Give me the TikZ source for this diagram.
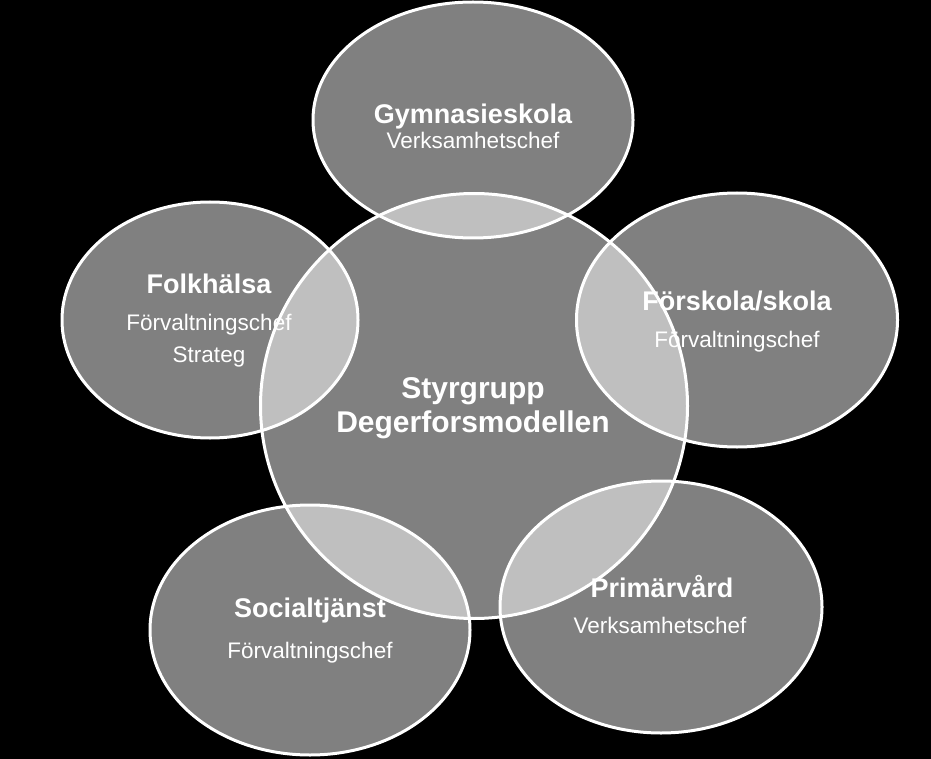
\documentclass[tikz,border=0pt]{standalone}
\usepackage{fontspec}
\setmainfont{Liberation Sans}
\usetikzlibrary{shapes.geometric}
\begin{document}
\begin{tikzpicture}[x=1pt,y=-1pt,
  blob/.style={ellipse, draw=white, line width=3pt, fill=white, fill opacity=0.5, inner sep=0pt, outer sep=0pt},
  ttl/.style={text=white, font=\fontsize{27}{30}\selectfont\bfseries, inner sep=0pt, anchor=base},
  sub/.style={text=white, font=\fontsize{22.5}{26}\selectfont, inner sep=0pt, anchor=base},
  ctr/.style={text=white, font=\fontsize{30}{34}\selectfont\bfseries, inner sep=0pt, anchor=base}]
\fill[black] (0,0) rectangle (931,759);
\useasboundingbox (0,0) rectangle (931,759);
% outer ellipses
\node[blob, minimum width=320pt, minimum height=236pt] (gym) at (473,120) {};
\node[blob, minimum width=296pt, minimum height=236pt] (folk) at (210,320) {};
\node[blob, minimum width=321pt, minimum height=254pt] (forsk) at (737,320) {};
\node[blob, minimum width=320pt, minimum height=250pt] (soc) at (310,630) {};
\node[blob, minimum width=322pt, minimum height=252pt] (prim) at (661,607) {};
% texts of outer ellipses
\node[ttl] (gymT) at (473,124) {Gymnasieskola};
\node[sub] (gymS) at (473,149) {Verksamhetschef};
\node[ttl] (folkT) at (209,293) {Folkhälsa};
\node[sub] (folkS) at (209,330) {Förvaltningschef};
\node[sub] (folkS2) at (209,362) {Strateg};
\node[ttl] (forskT) at (737,310) {Förskola/skola};
\node[sub] (forskS) at (737,347) {Förvaltningschef};
\node[ttl] (socT) at (310,617) {Socialtjänst};
\node[sub] (socS) at (310,658) {Förvaltningschef};
\node[ttl] (primT) at (662,597) {Primärvård};
\node[sub] (primS) at (660,633) {Verksamhetschef};
% central circle
\node[blob, minimum width=427pt, minimum height=425pt] (ctr) at (474,406) {};
\node[ctr] (ctrT) at (473,398) {Styrgrupp};
\node[ctr] (ctrS) at (473,432) {Degerforsmodellen};
\end{tikzpicture}
\end{document}
